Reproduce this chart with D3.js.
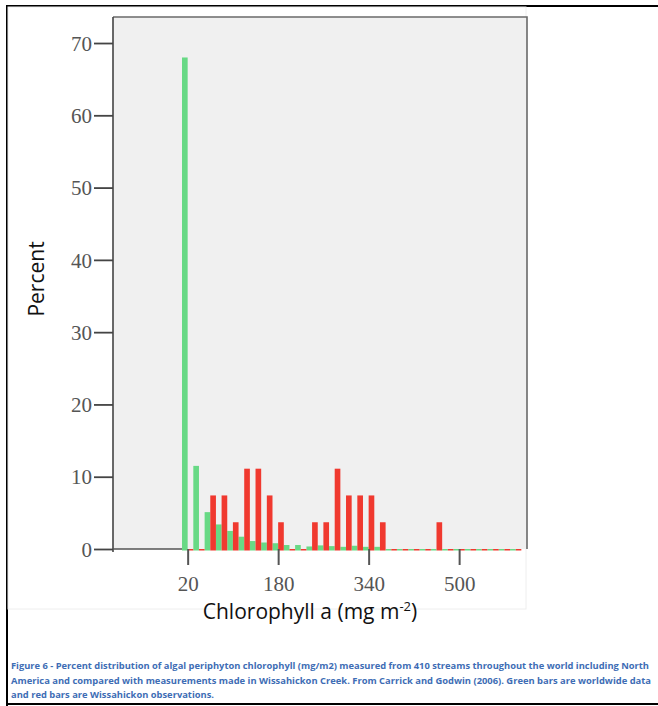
<!DOCTYPE html>
<html>
<head>
<meta charset="utf-8">
<script src="https://cdn.jsdelivr.net/npm/d3@7"></script>
<style>
  html, body { margin: 0; padding: 0; background: #fff; }
  svg { display: block; }
</style>
</head>
<body>
<svg id="chart" width="658" height="706"></svg>
<script>
// Histogram bins of chlorophyll a (mg m-2); each value is the bin centre
const binCentres = [20, 40, 60, 80, 100, 120, 140, 160, 180, 200, 220, 240, 260, 280, 300,
                    320, 340, 360, 380, 400, 420, 440, 460, 480, 500, 520, 540, 560, 580, 600];

// Worldwide streams (Carrick and Godwin 2006), percent per bin
const worldwide = [68.0, 11.5, 5.1, 3.4, 2.5, 1.7, 1.1, 0.9, 0.8, 0.55, 0.55, 0.35, 0.5, 0.4, 0.3,
                   0.45, 0.3, 0.3, 0, 0, 0, 0, 0, 0, 0, 0, 0, 0, 0, 0];

// Wissahickon Creek observations (27 samples), percent per bin
const wissahickon = [0, 0, 7.41, 7.41, 3.70, 11.11, 11.11, 7.41, 3.70, 0, 0, 3.70, 3.70, 11.11, 7.41,
                     7.41, 7.41, 3.70, 0, 0, 0, 0, 3.70, 0, 0, 0, 0, 0, 0, 0];

const xTicks = [20, 180, 340, 500];
const yTicks = [0, 10, 20, 30, 40, 50, 60, 70];

const captionLines = [
  "Figure 6 - Percent distribution of algal periphyton chlorophyll (mg/m2) measured from 410 streams throughout the world including North",
  "America and compared with measurements made in Wissahickon Creek.  From Carrick and Godwin (2006). Green bars are worldwide data",
  "and red bars are Wissahickon observations."
];

const svg = d3.select("#chart");
const plot = { left: 113, right: 527, top: 17, bottom: 549 };

const x = d3.scaleLinear().domain([-112, 620]).range([plot.left, plot.right]);
const y = d3.scaleLinear().domain([0, 73.6]).range([plot.bottom, plot.top]);
const halfBin = 10;

// Outer figure frame (left, top, bottom edges)
svg.append("path")
  .attr("d", "M7,706 L7,6 L658,6 M7,704 L658,704")
  .attr("fill", "none").attr("stroke", "#000").attr("stroke-width", 2);

// Faint outline of the chart canvas
svg.append("rect").attr("x", 8).attr("y", 7).attr("width", 518).attr("height", 602)
  .attr("fill", "none").attr("stroke", "#eeeeee").attr("stroke-width", 1);

// Plot background
svg.append("rect")
  .attr("x", plot.left).attr("y", plot.top)
  .attr("width", plot.right - plot.left).attr("height", plot.bottom - plot.top)
  .attr("fill", "#f0f0f0");

// Bars: green on the left half of each bin, red on the right half
const bars = svg.append("g");
const baseY = y(0);
bars.selectAll("rect.green").data(binCentres).join("rect")
  .attr("class", "green")
  .attr("x", c => x(c - halfBin))
  .attr("width", c => x(c) - x(c - halfBin))
  .attr("y", (c, i) => y(worldwide[i]))
  .attr("height", (c, i) => baseY - y(worldwide[i]) + 1.5)
  .attr("fill", "#68d985");
bars.selectAll("rect.red").data(binCentres).join("rect")
  .attr("class", "red")
  .attr("x", c => x(c))
  .attr("width", c => x(c + halfBin) - x(c))
  .attr("y", (c, i) => y(wissahickon[i]))
  .attr("height", (c, i) => baseY - y(wissahickon[i]) + 1.5)
  .attr("fill", "#f0392f");

// Plot frame: top and right edges
svg.append("path")
  .attr("d", `M${plot.left},${plot.top} L${plot.right},${plot.top} L${plot.right},${plot.bottom}`)
  .attr("fill", "none").attr("stroke", "#6a6a6a").attr("stroke-width", 1.6);

// Y axis
const yAxis = d3.axisLeft(y).tickValues(yTicks).tickSize(19).tickPadding(2).tickFormat(d3.format("d"));
const gy = svg.append("g").attr("transform", `translate(${plot.left},0)`).call(yAxis);
gy.select(".domain").attr("d", `M0,${plot.top} V${plot.bottom + 3}`).attr("stroke", "#444").attr("stroke-width", 1.6);
gy.selectAll(".tick line").attr("stroke", "#444").attr("stroke-width", 1.8);
gy.selectAll(".tick text")
  .attr("font-family", "'Liberation Serif', serif").attr("font-size", 21)
  .attr("fill", "#555").attr("dy", "0.34em");

// X axis
const xAxis = d3.axisBottom(x).tickValues(xTicks).tickSize(16).tickPadding(11).tickFormat(d3.format("d"));
const gx = svg.append("g").attr("transform", `translate(0,${plot.bottom})`).call(xAxis);
gx.select(".domain").remove();
gx.selectAll(".tick line").attr("stroke", "#555").attr("stroke-width", 2);
gx.selectAll(".tick text")
  .attr("font-family", "'Liberation Serif', serif").attr("font-size", 21)
  .attr("fill", "#555");

// Baseline under the bars
svg.append("line")
  .attr("x1", plot.left).attr("x2", x(binCentres[0] - halfBin))
  .attr("y1", baseY).attr("y2", baseY)
  .attr("stroke", "#555").attr("stroke-width", 1.6);

// Axis titles
const xTitle = svg.append("text")
  .attr("x", 310).attr("y", 619)
  .attr("text-anchor", "middle")
  .attr("font-family", "'Open Sans', sans-serif").attr("font-size", 21)
  .attr("fill", "#111");
xTitle.append("tspan").text("Chlorophyll a (mg m");
xTitle.append("tspan").attr("font-size", 13).attr("dy", -8).text("-2");
xTitle.append("tspan").attr("dy", 8).text(")");

svg.append("text")
  .attr("transform", "translate(44,279) rotate(-90)")
  .attr("text-anchor", "middle")
  .attr("font-family", "'Open Sans', sans-serif").attr("font-size", 21)
  .attr("fill", "#111")
  .text("Percent");

// Caption
const captionWidths = [638, 640, 203];
svg.append("g").selectAll("text").data(captionLines).join("text")
  .attr("x", 11)
  .attr("y", (d, i) => 669 + i * 14.5)
  .attr("font-family", "'Open Sans', sans-serif").attr("font-size", 9.3).attr("font-weight", "bold")
  .attr("fill", "#3e6db5")
  .attr("textLength", (d, i) => captionWidths[i])
  .attr("lengthAdjust", "spacingAndGlyphs")
  .text(d => d);
</script>
</body>
</html>
